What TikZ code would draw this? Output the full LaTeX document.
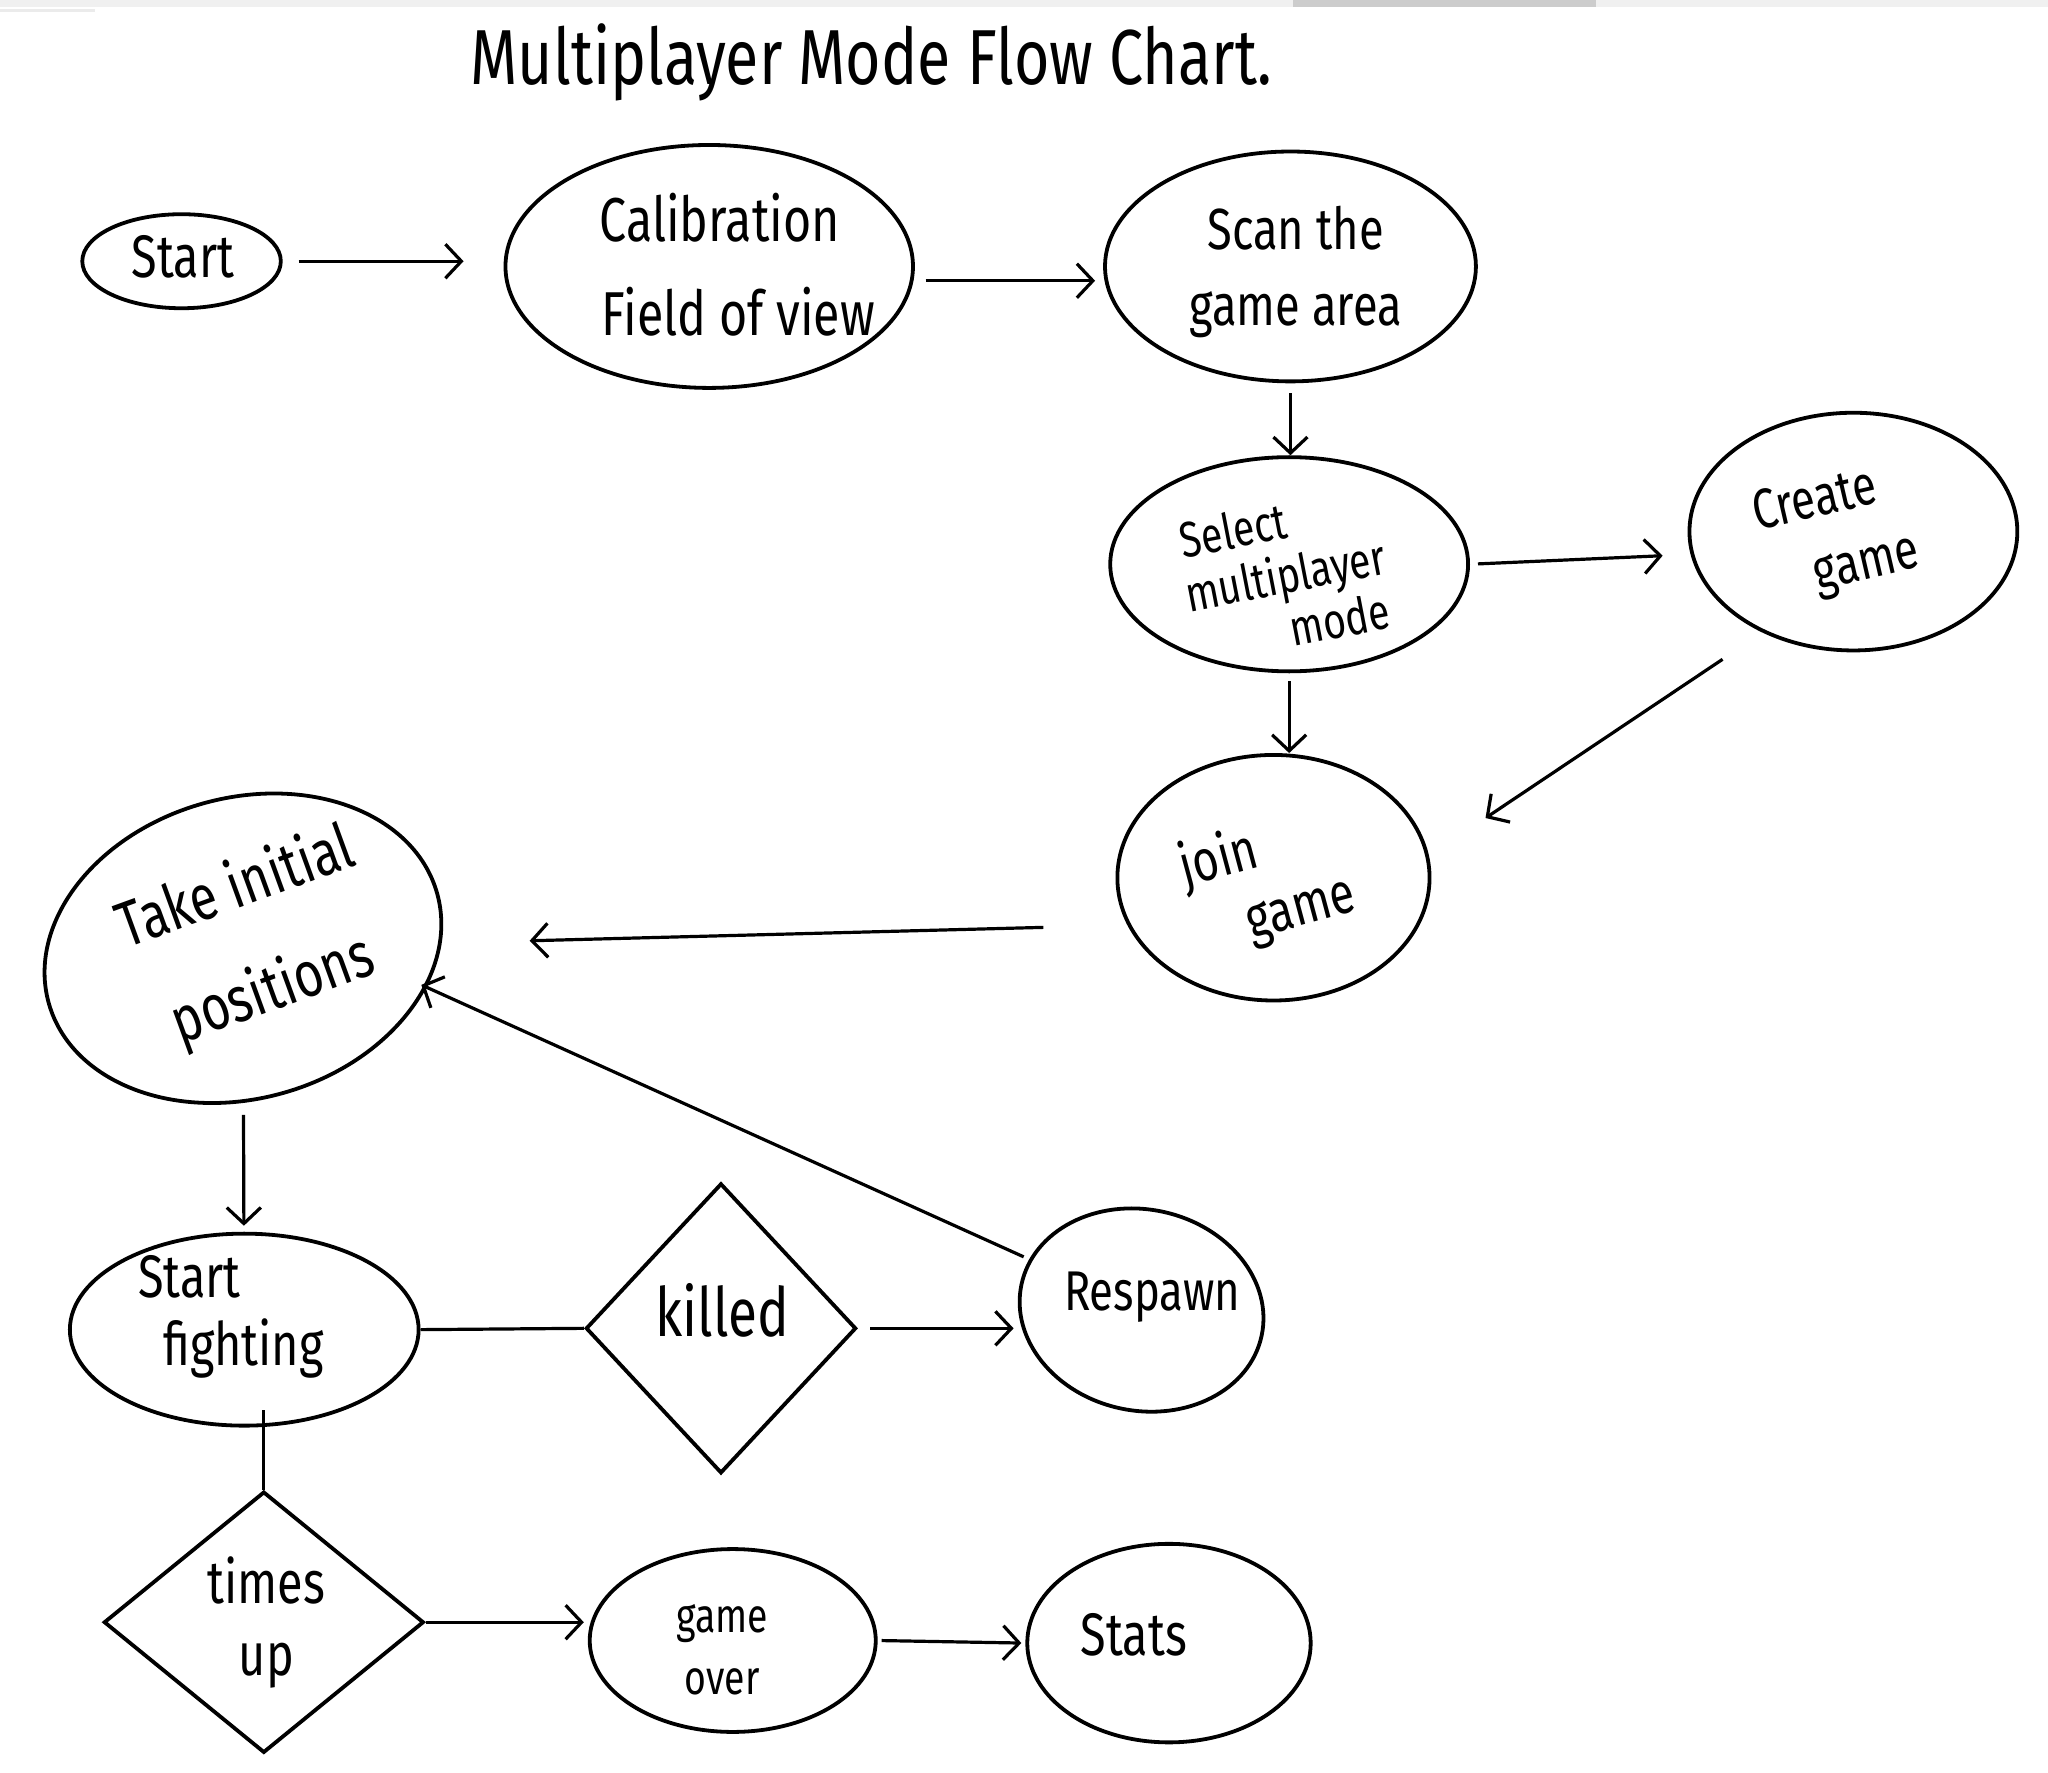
\documentclass[tikz,border=0pt]{standalone}
\usepackage{fontspec}
\newfontfamily\hand[FakeStretch=0.78]{Fira Sans}
\usetikzlibrary{shapes.geometric,arrows.meta}
\def\pxu{0.653pt}
\newcommand\hfs[2]{\fontsize{#1}{#2}\selectfont}
\tikzset{
 shp/.style={draw, line width=1.9pt, inner sep=0pt},
 ell/.style 2 args={shp, ellipse, minimum width=#1*\pxu, minimum height=#2*\pxu},
 dia/.style 2 args={shp, diamond, minimum width=#1*\pxu, minimum height=#2*\pxu},
 txt/.style={align=center, inner sep=0pt},
 arr/.style={draw, line width=1.6pt, -{Straight Barb[length=8pt,width=17pt,line width=1.6pt]}},
 ln/.style={draw, line width=1.6pt},
}
\begin{document}
\begin{tikzpicture}[x=0.653pt, y=-0.653pt]
\fill[white] (0,0) rectangle (1568,1357);
\useasboundingbox (0,0) rectangle (1568,1357);
% top strip
\fill[black!6] (0,0) rectangle (1568,5);
\fill[black!20] (990,0) rectangle (1222,5);
\fill[black!8] (0,7) rectangle (73,9);

% title
\node[txt, font=\hand\hfs{39}{39}] (title) at (667,48) {Multiplayer Mode Flow Chart.};

% shapes
\node[ell={152}{72}] (start) at (139,200) {};
\node[ell={312}{186}] (calib) at (543,204) {};
\node[ell={284}{176}] (scan) at (988,204) {};
\node[ell={274}{164}] (select) at (987,432) {};
\node[ell={251}{182}] (create) at (1419,407) {};
\node[ell={239}{188}] (join) at (975,672) {};
\node[ell={309}{230}, rotate=16] (take) at (186,726) {};
\node[ell={267}{147}] (fight) at (187,1018) {};
\node[dia={207}{222}] (killed) at (552,1017) {};
\node[ell={188}{154}, rotate=-12] (resp) at (874,1003) {};
\node[dia={245}{200}] (times) at (202,1242) {};
\node[ell={219}{140}] (over) at (561,1256) {};
\node[ell={217}{152}] (stats) at (895,1258) {};

% texts
\node[txt, font=\hand\hfs{30}{36}] (tstart) at (140,197) {Start};
\node[txt, font=\hand\hfs{31}{47}] (tcalib) at (551,203) {Calibration\\\hspace*{0.6em}Field of view};
\node[txt, font=\hand\hfs{29}{38}] (tscan) at (992,208) {Scan the\\game area};
\node[txt, font=\hand\hfs{25}{27}, rotate=11] (tselect) at (984,440) {Select\hspace*{1.7em}\\multiplayer\\\hspace*{1.8em}mode};
\node[txt, font=\hand\hfs{28}{36}, rotate=13] (tcreate) at (1396,412) {Create\\\hspace*{1.3em}game};
\node[txt, font=\hand\hfs{29}{34}, rotate=15] (tjoin) at (955,680) {join\hspace*{0.7em}\\\hspace*{1.6em}game};
\node[txt, font=\hand\hfs{32}{54}, rotate=20] (ttake) at (195,720) {Take initial\\positions};
\node[txt, font=\hand\hfs{30}{34}] (tfight) at (168,1008) {Start\hspace*{1em}\\\hspace*{0.8em}fighting};
\node[txt, font=\hand\hfs{34}{34}] (tkilled) at (553,1003) {killed};
\node[txt, font=\hand\hfs{28}{28}] (tresp) at (882,993) {Respawn};
\node[txt, font=\hand\hfs{30}{36}] (ttimes) at (204,1242) {times\\up};
\node[txt, font=\hand\hfs{24}{31}] (tover) at (553,1263) {game\\over};
\node[txt, font=\hand\hfs{30}{30}] (tstats) at (868,1252) {Stats};

% connectors
\draw[arr, shorten <=8pt, shorten >=20pt] (start.east) -- (start.east -| calib.west);
\draw[arr, shorten <=6pt, shorten >=4pt] (calib.-4) -- (calib.-4 -| scan.west);
\draw[arr, shorten <=5pt] (scan.south) -- (scan.south |- select.north);
\draw[arr, shorten <=4pt, shorten >=14pt] (select.east) -- (create.188);
\draw[arr, shorten <=4pt] (select.south) -- (select.south |- join.north);
\draw[arr, shorten <=24pt, shorten >=34pt] (create.228) -- (join.8);
\draw[arr, shorten <=42pt, shorten >=44pt] (join.198) -- (take);
\draw[arr, shorten <=6pt, shorten >=3pt] (take) -- (fight);
\draw[ln] (fight.east) -- (killed.west);
\draw[arr, shorten <=6pt, shorten >=3pt] (killed.east) -- (killed.east -| resp.west);
\draw[arr, shorten <=3pt, shorten >=-3pt] (resp) -- (take.-28);
\draw[ln] (times.north) -- ([yshift=9pt]times.north |- fight.south);
\draw[arr, shorten >=2pt] (times.east) -- (times.east -| over.west);
\draw[arr, shorten <=2pt, shorten >=2pt] (over.east) -- (stats.west);
\end{tikzpicture}
\end{document}
